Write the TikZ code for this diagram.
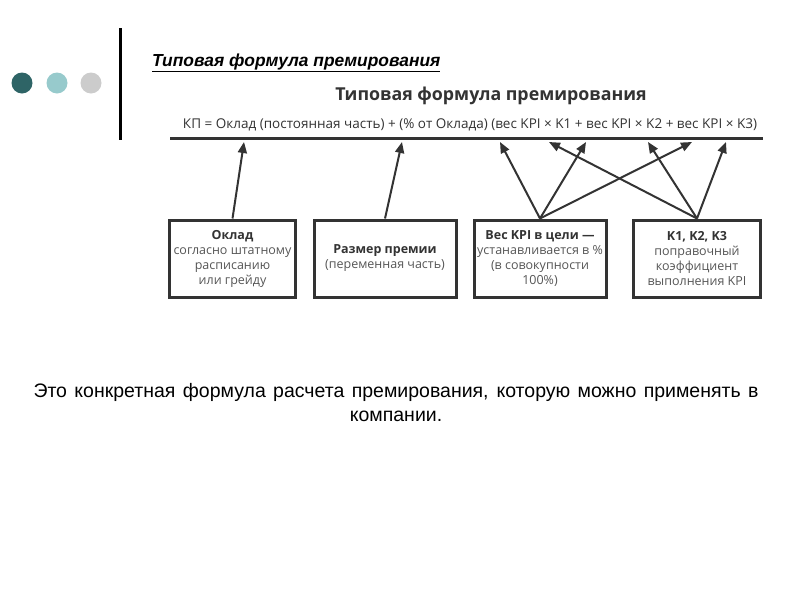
\documentclass[tikz,border=0pt]{standalone}
\usepackage{fontspec}
\setmainfont{Liberation Sans}
\newfontfamily\boxfont{Open Sans}
\usetikzlibrary{arrows.meta}

\definecolor{dotdark}{HTML}{2E6466}
\definecolor{dotlight}{HTML}{97CACC}
\definecolor{dotgray}{HTML}{CCCCCC}
\definecolor{ink}{HTML}{333333}
\definecolor{graytext}{HTML}{555555}

\tikzset{
  infobox/.style={draw=ink, line width=3pt, minimum height=77pt, align=center,
    font=\boxfont\fontsize{12.5}{15}\selectfont, text=graytext, inner sep=2pt},
  uparrow/.style={draw=ink, line width=2pt, -{Triangle[length=11pt,width=9pt]}},
  dot/.style={circle, minimum size=21pt, inner sep=0pt},
}

\begin{document}
\begin{tikzpicture}[x=1pt, y=-1pt]
\useasboundingbox (0,0) rectangle (800,600);

% bullets and bar
\node[dot, fill=dotdark] (d1) at (22,83) {};
\node[dot, fill=dotlight] (d2) at (57,83) {};
\node[dot, fill=dotgray] (d3) at (91,83) {};
\draw[line width=3pt] (120,28) -- (120,140);

% titles
\node[anchor=west, inner sep=0pt, font=\bfseries\itshape\fontsize{17.4}{20}\selectfont] (title) at (152,63)
  {\underline{Типовая формула премирования}};
\node[text=ink, font=\boxfont\bfseries\fontsize{17.8}{22}\selectfont] (sub) at (491,96) {Типовая формула премирования};
\node[text=ink, font=\boxfont\fontsize{13.5}{16}\selectfont] (formula) at (470,125)
  {КП = Оклад (постоянная часть) + (\% от Оклада) (вес KPI × K1 + вес KPI × K2 + вес KPI × K3)};
\draw[ink, line width=3pt] (170,138) -- (763,138);

% targets on the formula line
\coordinate (t1) at (244,142);
\coordinate (t2) at (402,142);
\coordinate (w1) at (500,142);
\coordinate (w2) at (586,142);
\coordinate (w3) at (692,142);
\coordinate (k1) at (549,142);
\coordinate (k2) at (648,142);
\coordinate (k3) at (726,142);

% boxes
\node[infobox, minimum width=126pt] (okl) at (232.5,258.5)
  {\textcolor{ink}{\textbf{Оклад}}\\согласно штатному\\расписанию\\или грейду};
\node[infobox, minimum width=142pt] (prem) at (385,258.5)
  {\textcolor{ink}{\textbf{Размер премии}}\\(переменная часть)};
\node[infobox, minimum width=132pt] (ves) at (540,258.5)
  {\textcolor{ink}{\textbf{Вес KPI в цели —}}\\устанавливается в \%\\(в совокупности\\100\%)};
\node[infobox, minimum width=127pt] (koef) at (697,258.5)
  {\textcolor{ink}{\textbf{K1, K2, K3}}\\поправочный\\коэффициент\\выполнения KPI};

% arrows
\draw[uparrow] (okl.north) -- (t1);
\draw[uparrow] (prem.north) -- (t2);
\foreach \t in {w1,w2,w3} \draw[uparrow] (ves.north) -- (\t);
\foreach \t in {k1,k2,k3} \draw[uparrow] (koef.north) -- (\t);

% caption
\node[align=center, font=\fontsize{19.5}{24}\selectfont] (note) at (396,403)
  {\makebox[725pt][s]{Это конкретная формула расчета премирования, которую можно применять в}\\компании.};
\end{tikzpicture}
\end{document}
